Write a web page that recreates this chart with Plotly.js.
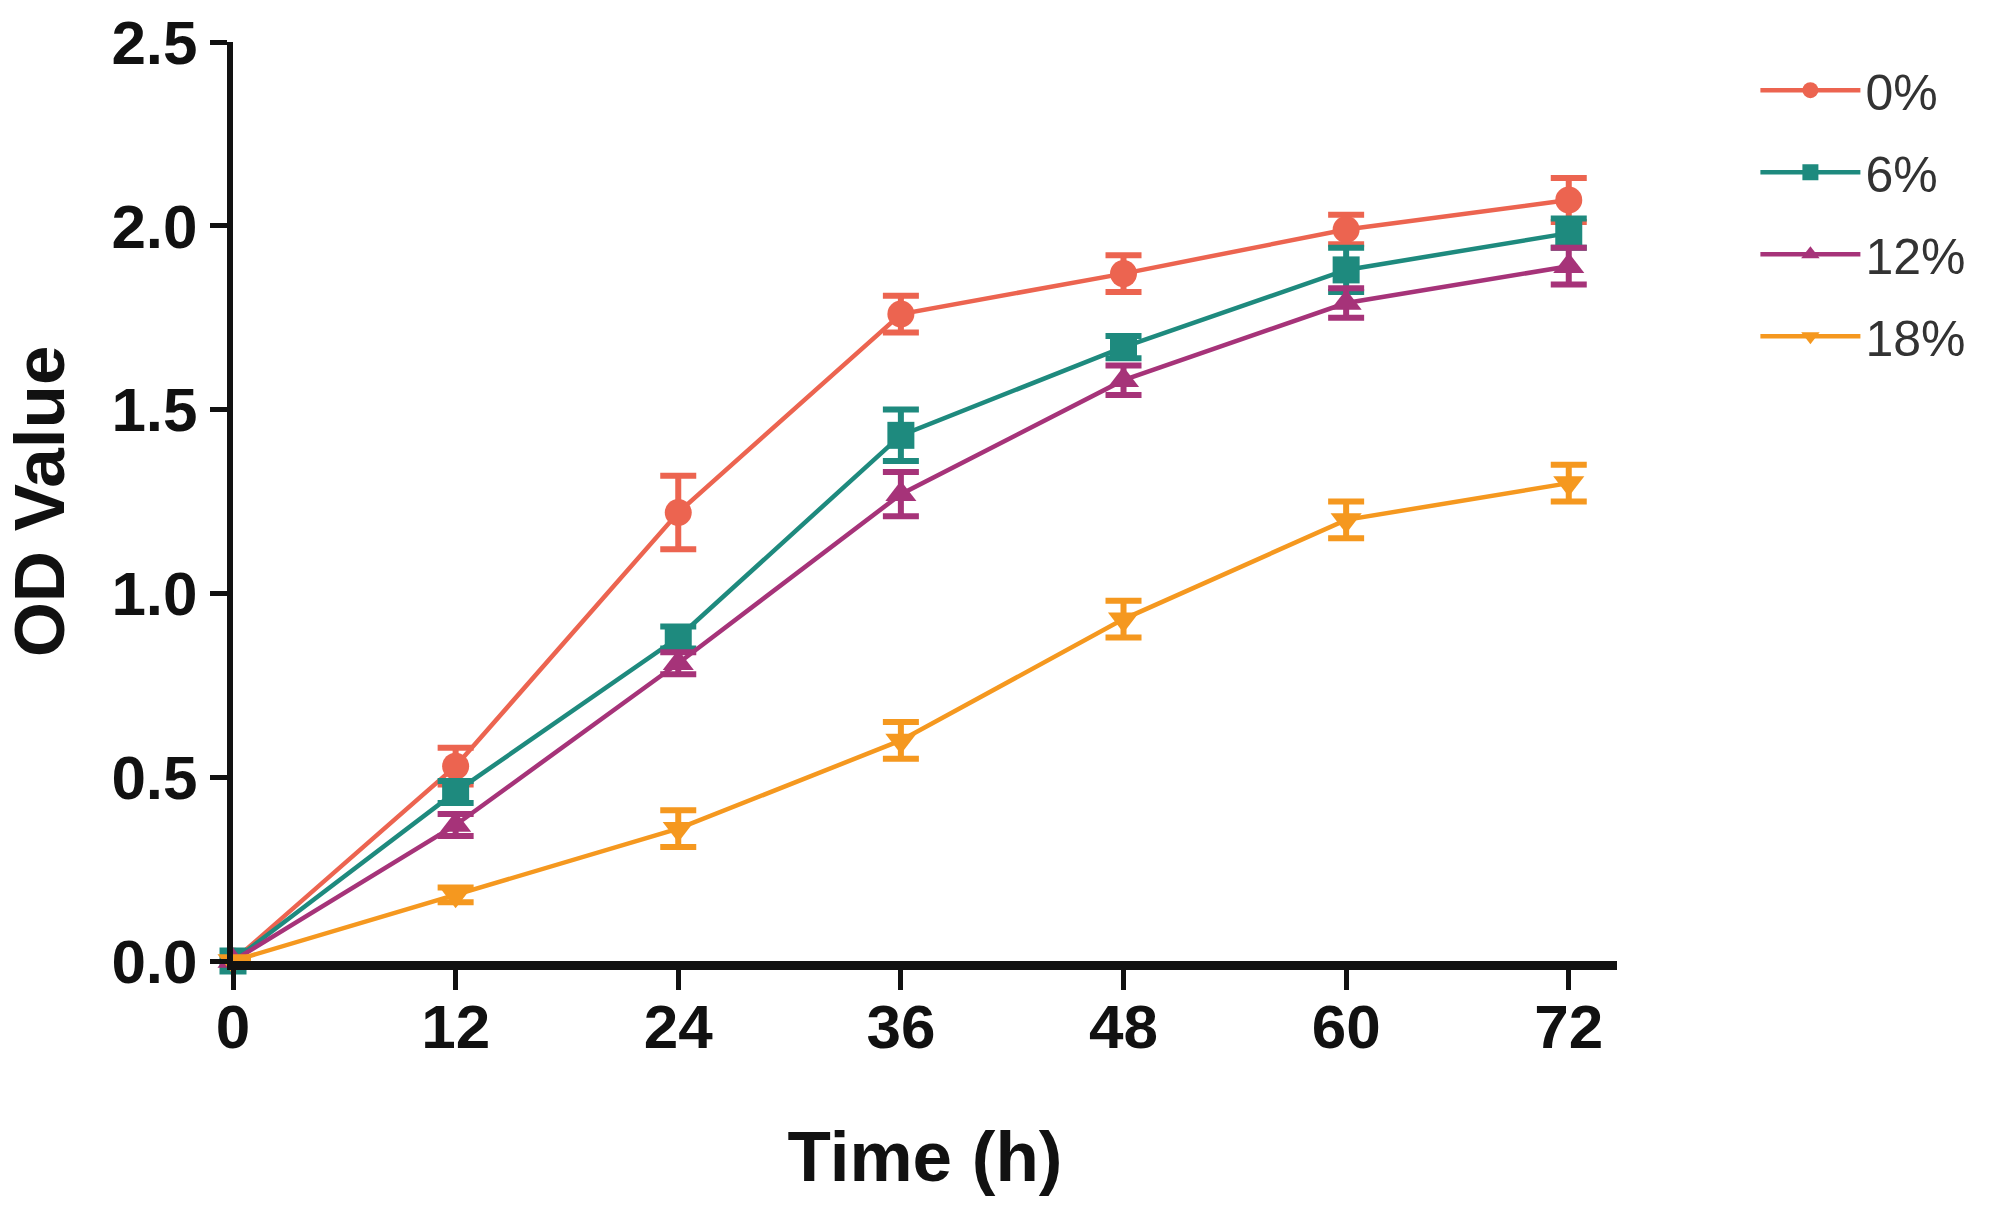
<!DOCTYPE html>
<html>
<head>
<meta charset="utf-8">
<script src="https://cdn.plot.ly/plotly-3.0.1.min.js"></script>
<style>
  html, body { margin: 0; padding: 0; background: #fff; }
  #chart { width: 1995px; height: 1208px; }
</style>
</head>
<body>
<div id="chart"></div>
<script>
// time points (h)
const hours = [0, 12, 24, 36, 48, 60, 72];

// OD values, one list per concentration
const od0 = [0, 0.53, 1.22, 1.76, 1.87, 1.99, 2.07];
const od6 = [0, 0.46, 0.88, 1.43, 1.67, 1.88, 1.98];
const od12 = [0, 0.37, 0.81, 1.27, 1.58, 1.79, 1.89];
const od18 = [0, 0.18, 0.36, 0.60, 0.93, 1.20, 1.30];

// error bar half-heights
const err0 = [0, 0.05, 0.10, 0.05, 0.05, 0.04, 0.06];
const err6 = [0, 0.03, 0.03, 0.07, 0.03, 0.06, 0.04];
const err12 = [0, 0.03, 0.03, 0.06, 0.04, 0.04, 0.05];
const err18 = [0, 0.02, 0.05, 0.05, 0.05, 0.05, 0.05];

const seriesNames = ['0%', '6%', '12%', '18%'];
const seriesColors = ['#EC6450', '#1E8A7E', '#A63379', '#F5981F'];
const seriesSymbols = ['circle', 'square', 'triangle-up', 'triangle-down'];

const values = [od0, od6, od12, od18];
const errors = [err0, err6, err12, err18];

const data = values.map(function (y, i) {
  return {
    x: hours,
    y: y,
    name: seriesNames[i],
    legendgroup: 'g' + i,   // one group each so tracegroupgap spaces the rows
    type: 'scatter',
    mode: 'lines+markers',
    cliponaxis: false,
    line: {color: seriesColors[i], width: 4.5},
    marker: {color: seriesColors[i], symbol: seriesSymbols[i], size: 27},
    error_y: {
      type: 'data',
      array: errors[i],
      visible: true,
      color: seriesColors[i],
      thickness: 6,
      width: 18
    }
  };
});

const tickFont = {family: 'Liberation Sans, Arial, sans-serif', size: 62, color: '#111', weight: 'bold'};
const titleFont = {family: 'Liberation Sans, Arial, sans-serif', size: 71, color: '#111', weight: 'bold'};

const layout = {
  width: 1995,
  height: 1208,
  paper_bgcolor: '#fff',
  plot_bgcolor: '#fff',
  margin: {l: 233, r: 378, t: 42, b: 247},
  showlegend: true,
  legend: {
    x: 1.1,
    y: 0.99,
    xanchor: 'left',
    yanchor: 'top',
    itemwidth: 100,
    tracegroupgap: 14,
    font: {family: 'Liberation Sans, Arial, sans-serif', size: 50, color: '#333'}
  },
  xaxis: {
    range: [0, 74.6],
    tickvals: hours,
    ticktext: hours.map(String),
    ticks: 'outside',
    ticklen: 20,
    tickwidth: 5,
    tickcolor: '#111',
    ticklabelstandoff: -16,
    showline: true,
    linecolor: '#111',
    linewidth: 9,
    showgrid: false,
    zeroline: false,
    tickfont: tickFont,
    title: {text: 'Time (h)', font: titleFont, standoff: 74}
  },
  yaxis: {
    range: [0, 2.5],
    dtick: 0.5,
    tickformat: '.1f',
    ticks: 'outside',
    ticklen: 17,
    tickwidth: 5,
    tickcolor: '#111',
    showline: true,
    linecolor: '#111',
    linewidth: 6,
    showgrid: false,
    zeroline: false,
    tickfont: tickFont,
    title: {text: 'OD Value', font: titleFont, standoff: 30}
  }
};

Plotly.newPlot('chart', data, layout, {displayModeBar: false, staticPlot: true});
</script>
</body>
</html>
